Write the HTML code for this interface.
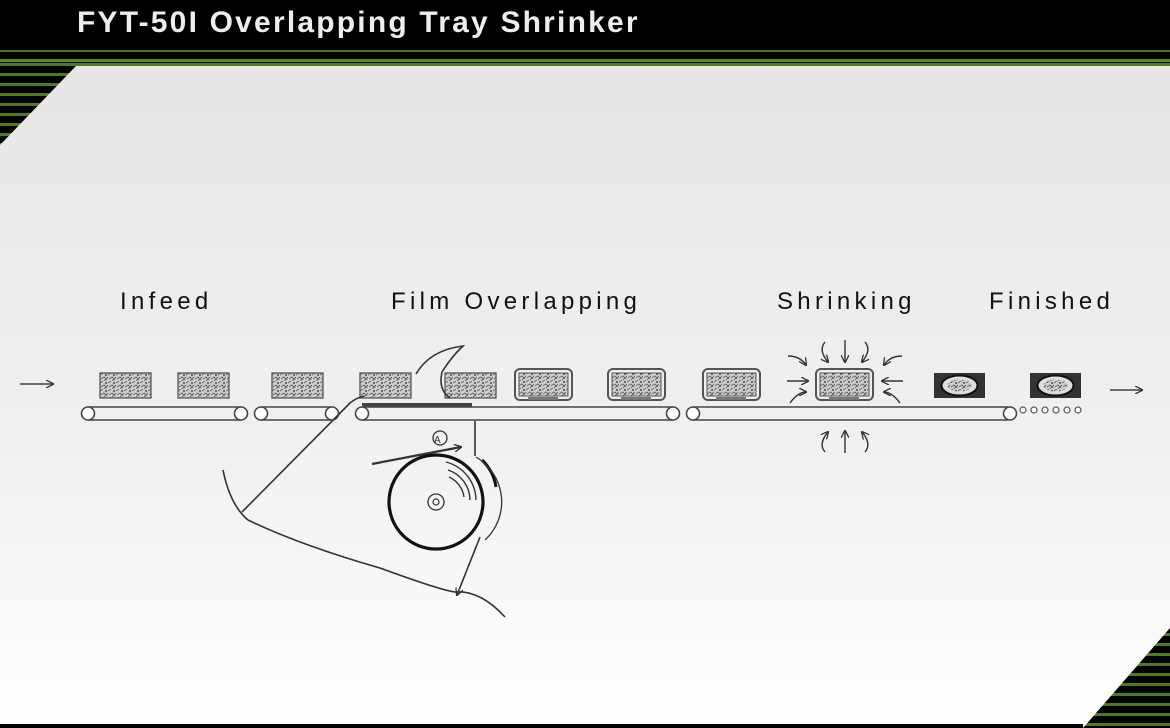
<!DOCTYPE html>
<html><head><meta charset="utf-8"><style>
html,body{margin:0;padding:0;width:1170px;height:728px;overflow:hidden;background:#000}
svg{display:block}
text{font-family:"Liberation Sans",sans-serif}
</style></head><body>
<svg width="1170" height="728" viewBox="0 0 1170 728" xmlns="http://www.w3.org/2000/svg">
<defs>
<linearGradient id="bg" x1="0" y1="0" x2="0" y2="1">
<stop offset="0" stop-color="#e8e5e5"/><stop offset="0.55" stop-color="#f1f0f0"/><stop offset="1" stop-color="#ffffff"/>
</linearGradient>
<pattern id="stripes" width="8" height="10" patternUnits="userSpaceOnUse">
<rect width="8" height="10" fill="#000"/><rect y="3" width="8" height="3" fill="#4f7a1e"/>
</pattern>
<pattern id="tex" width="8" height="8" patternUnits="userSpaceOnUse">
<rect width="8" height="8" fill="#cfcfcf"/>
<path d="M0 2 L3 0 M4 8 L8 4 M1 6 L4 4 L7 7" stroke="#666" stroke-width="1" fill="none"/>
<circle cx="6" cy="2" r="0.9" fill="#222"/>
</pattern>
<g id="box"><rect x="0" y="0" width="51" height="25" fill="url(#tex)" stroke="#555" stroke-width="1.3"/></g>
<g id="fbox"><rect x="-3" y="-3" width="57" height="31" rx="5" fill="none" stroke="#555" stroke-width="2"/><rect x="1" y="1" width="49" height="23" fill="url(#tex)" stroke="#555"/><rect x="10" y="25" width="30" height="3" fill="#777"/></g>
<g id="obox"><rect x="0" y="0" width="51" height="25" fill="#333"/><ellipse cx="25.5" cy="12.5" rx="18" ry="10" fill="#ddd" stroke="#111" stroke-width="2"/><ellipse cx="25.5" cy="12.5" rx="12" ry="6" fill="url(#tex)"/></g>
<marker id="ah" markerWidth="8" markerHeight="8" refX="7" refY="4" orient="auto" markerUnits="userSpaceOnUse"><path d="M0 0 L8 4 L0 8" fill="none" stroke="#333" stroke-width="1.3"/></marker>
</defs>
<rect width="1170" height="728" fill="#000"/>
<rect x="0" y="50" width="1170" height="2" fill="#4d7a1f"/>
<rect x="0" y="59" width="1170" height="3" fill="#5a8a22"/>
<rect x="0" y="62" width="1170" height="90" fill="url(#stripes)"/>
<rect x="1000" y="600" width="170" height="128" fill="url(#stripes)"/>
<polygon points="76,66 1170,66 1170,628 1083,728 0,728 0,145" fill="url(#bg)"/>
<rect x="0" y="724" width="1083" height="4" fill="#000"/>
<text x="77" y="32" font-size="30" font-weight="bold" fill="#eee" letter-spacing="2.2">FYT-50I Overlapping Tray Shrinker</text>

<g font-size="24" fill="#111" letter-spacing="4.3">
<text x="120" y="309">Infeed</text>
<text x="391" y="309">Film Overlapping</text>
<text x="777" y="309">Shrinking</text>
<text x="989" y="309">Finished</text>
</g>

<g stroke="#444" stroke-width="1.6" fill="none">
<line x1="20" y1="384" x2="53" y2="384" marker-end="url(#ah)"/>
<line x1="1110" y1="390" x2="1142" y2="390" marker-end="url(#ah)"/>
<path d="M88 407 H241 M88 420 H241"/><circle cx="88" cy="413.5" r="6.5" fill="#fff"/><circle cx="241" cy="413.5" r="6.5" fill="#fff"/>
<path d="M261 407 H332 M261 420 H332"/><circle cx="261" cy="413.5" r="6.5" fill="#fff"/><circle cx="332" cy="413.5" r="6.5" fill="#fff"/>
<path d="M362 407 H673 M362 420 H673"/><circle cx="362" cy="413.5" r="6.5" fill="#fff"/><circle cx="673" cy="413.5" r="6.5" fill="#fff"/>
<path d="M693 407 H1008 M693 420 H1008"/><circle cx="693" cy="413.5" r="6.5" fill="#fff"/><circle cx="1010" cy="413.5" r="6.5" fill="#fff"/>
</g>
<g stroke="#555" stroke-width="1.2" fill="#fff">
<circle cx="1023" cy="410" r="3"/><circle cx="1034" cy="410" r="3"/><circle cx="1045" cy="410" r="3"/><circle cx="1056" cy="410" r="3"/><circle cx="1067" cy="410" r="3"/><circle cx="1078" cy="410" r="3"/>
</g>
<rect x="362" y="403" width="110" height="4" fill="#444"/>

<use href="#box" x="100" y="373"/>
<use href="#box" x="178" y="373"/>
<use href="#box" x="272" y="373"/>
<use href="#box" x="360" y="373"/>
<use href="#box" x="445" y="373"/>
<use href="#fbox" x="518" y="372"/>
<use href="#fbox" x="611" y="372"/>
<use href="#fbox" x="706" y="372"/>
<use href="#fbox" x="819" y="372"/>
<use href="#obox" x="934" y="373"/>
<use href="#obox" x="1030" y="373"/>

<g stroke="#333" stroke-width="1.6" fill="none">
<path d="M416 374 Q430 350 463 346 Q452 356 442 372 Q438 390 450 398"/>
<path d="M242 512 L350 403 Q356 398 364 396"/>
<path d="M223 470 Q230 505 248 520 Q300 545 380 568 Q440 590 455 592 Q480 590 505 617"/>
<line x1="475" y1="421" x2="475" y2="456"/>
<line x1="480" y1="537" x2="457" y2="595" marker-end="url(#ah)"/>
<line x1="372" y1="464" x2="461" y2="447" stroke-width="2.2" marker-end="url(#ah)"/>
<circle cx="440" cy="438" r="7" stroke-width="1.3"/>
<circle cx="436" cy="502" r="47" stroke="#111" stroke-width="3.2"/>
<circle cx="436" cy="502" r="8" stroke-width="1.3"/><circle cx="436" cy="502" r="3" stroke-width="1.2"/>
<path d="M446 462 A40 40 0 0 1 476 500 M448 470 A32 32 0 0 1 470 500 M449 477 A26 26 0 0 1 464 497" stroke-width="1.4"/>
<path d="M482 460 A47 47 0 0 1 496 487" stroke="#111" stroke-width="3"/>
<path d="M476 457 A52 52 0 0 1 485 540" stroke-width="1.3"/>
</g>
<text x="434" y="443" font-size="10" fill="#333">A</text>

<g stroke="#333" stroke-width="1.4" fill="none">
<line x1="845" y1="340" x2="845" y2="362" marker-end="url(#ah)"/>
<path d="M825 342 Q818 350 828 362" marker-end="url(#ah)"/>
<path d="M865 342 Q872 350 862 362" marker-end="url(#ah)"/>
<path d="M788 356 Q800 356 806 365" marker-end="url(#ah)"/>
<line x1="787" y1="381" x2="808" y2="381" marker-end="url(#ah)"/>
<path d="M790 403 Q798 392 806 392" marker-end="url(#ah)"/>
<path d="M902 356 Q890 356 884 365" marker-end="url(#ah)"/>
<line x1="903" y1="381" x2="882" y2="381" marker-end="url(#ah)"/>
<path d="M900 403 Q892 392 884 392" marker-end="url(#ah)"/>
<line x1="845" y1="453" x2="845" y2="431" marker-end="url(#ah)"/>
<path d="M825 452 Q818 444 828 432" marker-end="url(#ah)"/>
<path d="M865 452 Q872 444 862 432" marker-end="url(#ah)"/>
</g>
</svg>
</body></html>
